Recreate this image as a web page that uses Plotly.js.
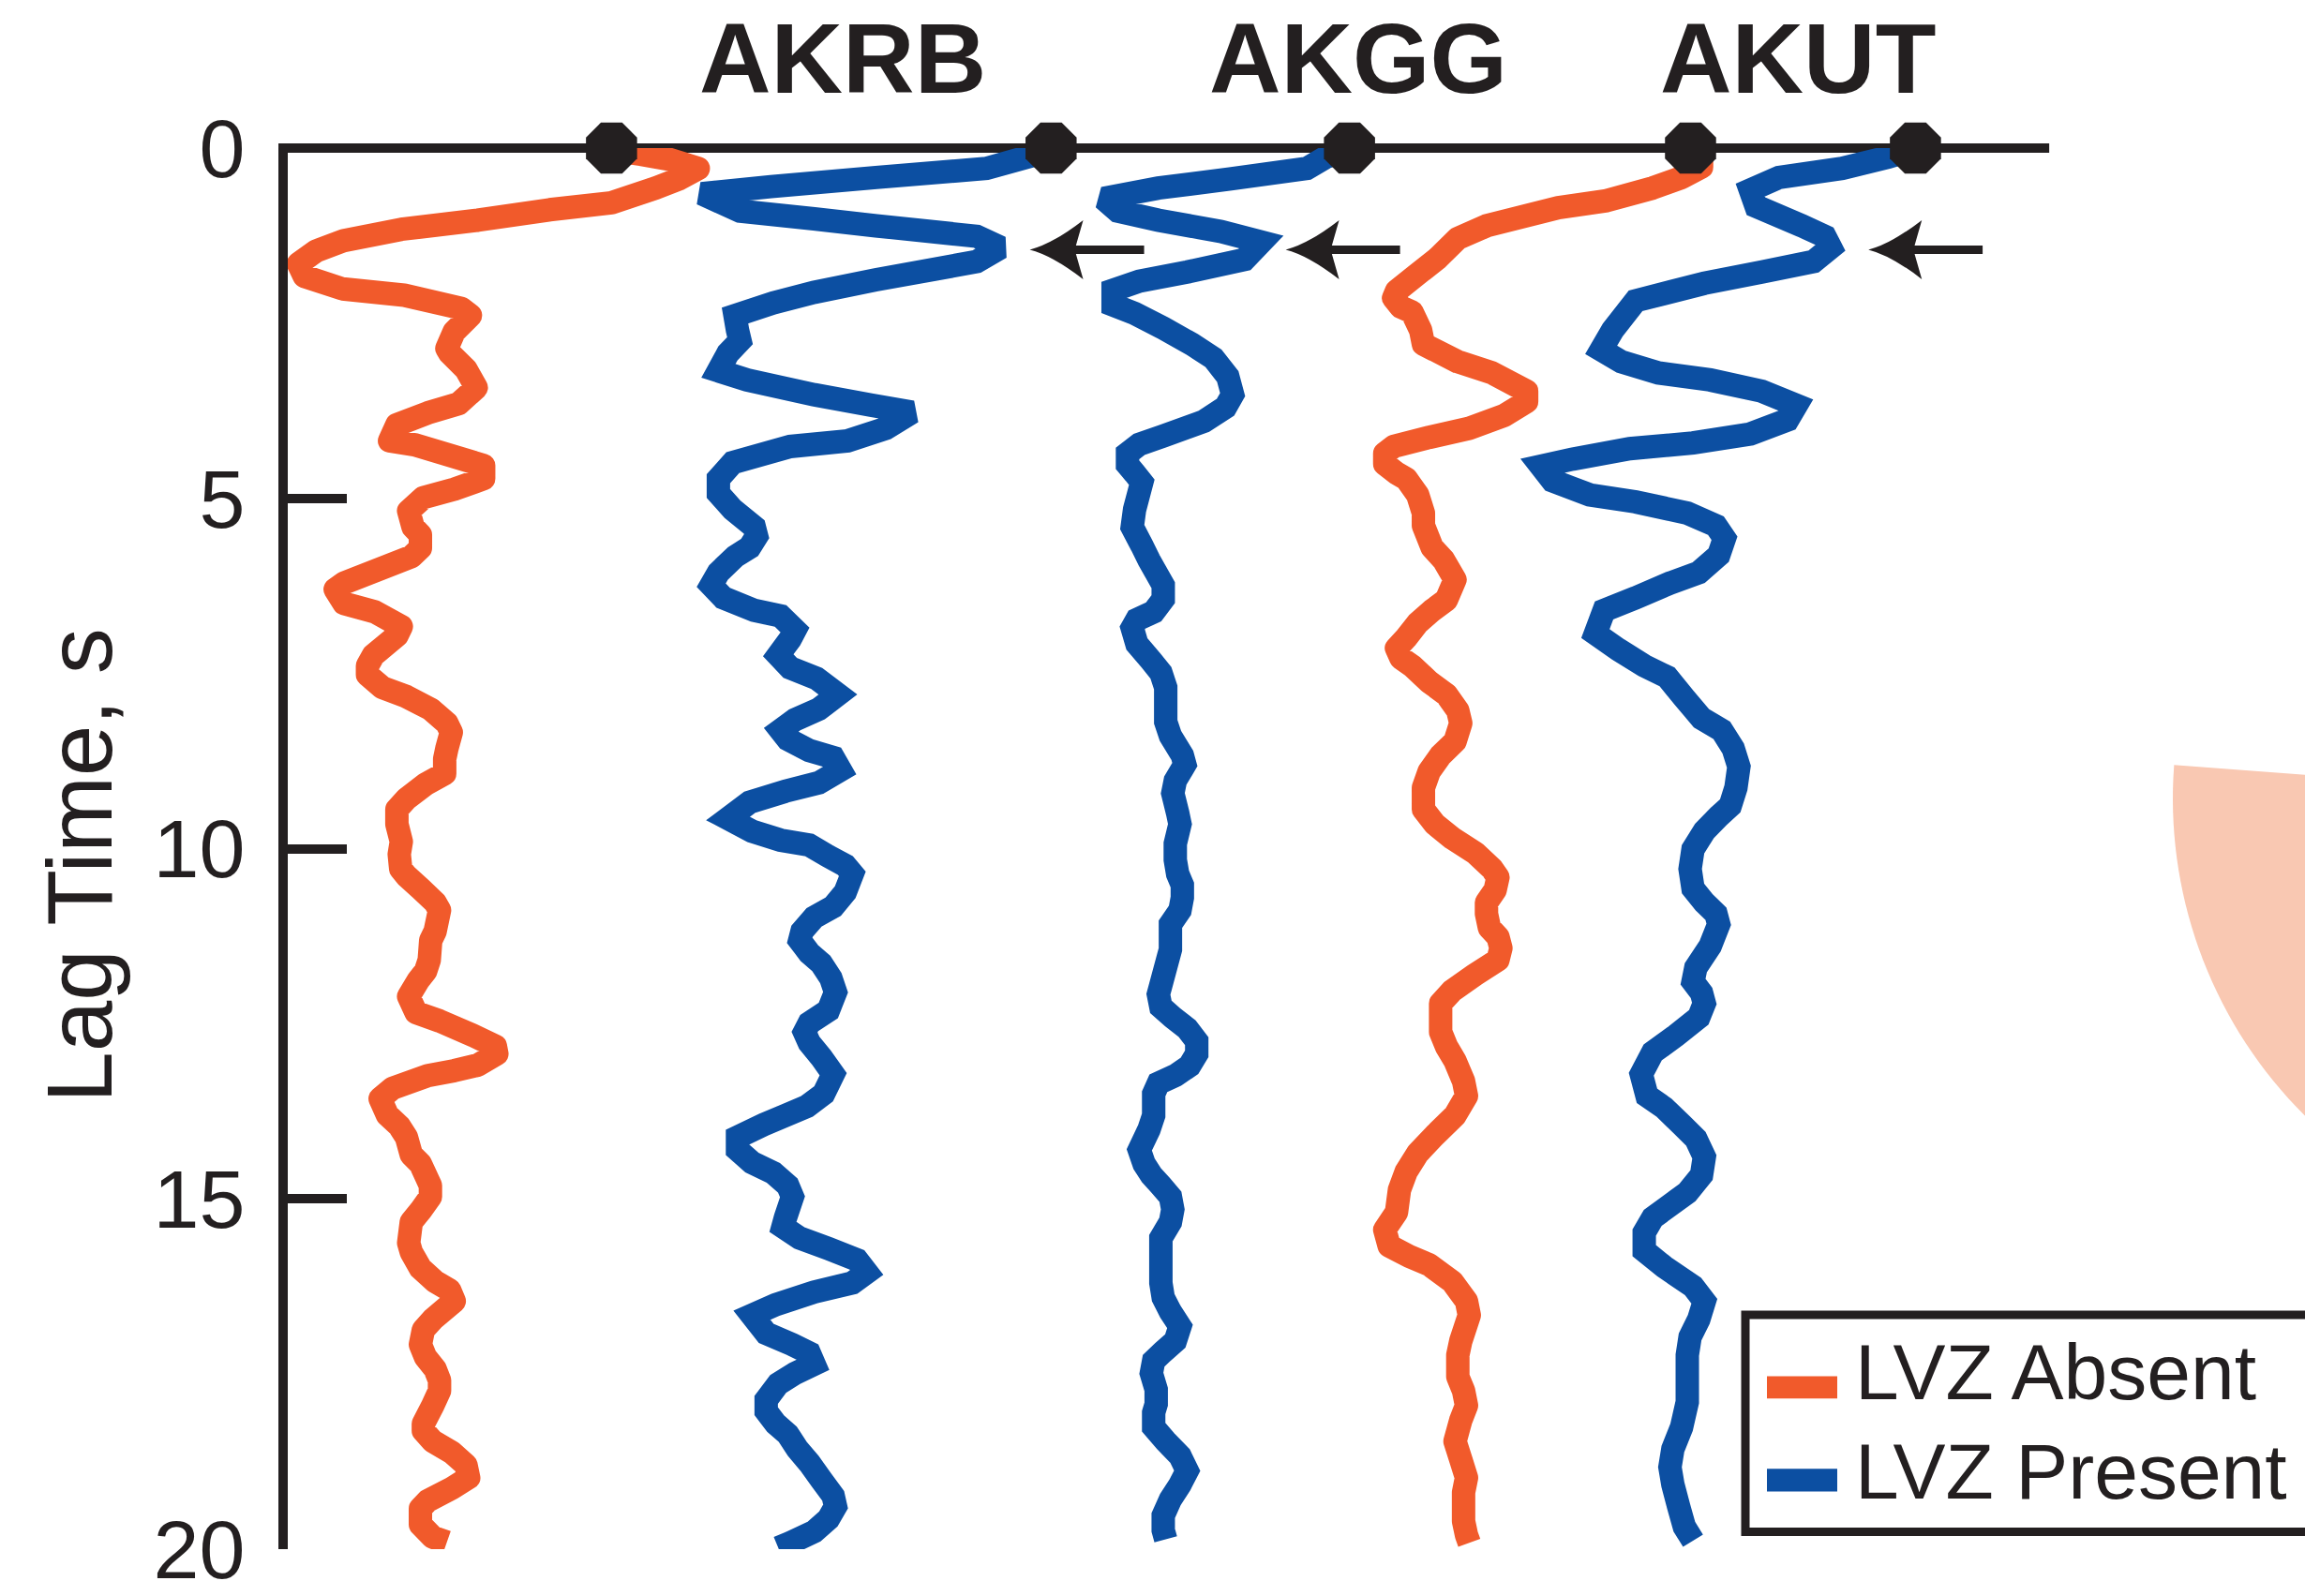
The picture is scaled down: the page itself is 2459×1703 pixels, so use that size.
<!DOCTYPE html>
<html>
<head>
<meta charset="utf-8">
<script src="https://cdn.plot.ly/plotly-3.0.1.min.js"></script>
<style>
  html, body { margin: 0; padding: 0; background: #ffffff; }
  #chart { width: 2459px; height: 1703px; }
</style>
</head>
<body>
<div id="chart"></div>
<script>
// ---------------- data ----------------
// Each trace: lag time (s) and horizontal position of the waveform (plot offset units)
const trace1Lag = [0.03,0.09,0.16,0.29,0.44,0.57,0.78,0.88,1.03,1.16,
  1.32,1.47,1.65,1.83,2.01,2.10,2.29,2.39,2.62,2.86,
  2.93,3.16,3.42,3.65,3.78,3.95,4.18,4.24,4.53,4.72,
  4.87,4.99,5.18,5.41,5.52,5.71,5.83,6.21,6.30,6.50,
  6.62,6.83,6.96,7.24,7.39,7.52,7.70,7.83,8.01,8.21,
  8.34,8.57,8.72,8.93,9.08,9.29,9.44,9.65,9.90,10.08,
  10.29,10.39,10.57,10.77,10.88,11.18,11.31,11.59,11.75,11.88,
  12.11,12.34,12.46,12.67,12.82,12.93,13.09,13.17,13.24,13.42,
  13.57,13.80,13.96,14.12,14.37,14.50,14.81,14.97,15.17,15.33,
  15.63,15.76,15.99,16.18,16.30,16.46,16.72,16.87,17.08,17.26,
  17.43,17.59,17.74,17.95,18.21,18.31,18.46,18.62,18.80,18.98,
  19.13,19.31,19.42,19.65,19.83,19.90];
const trace1X = [416,436,455,475,462,446,416,374,325,273,
  234,215,203,207,233,275,314,320,309,304,
  306,317,324,312,291,270,265,283,329,329,
  309,288,278,281,286,286,280,234,228,234,
  255,273,270,254,250,250,260,276.5,293,304,
  307,304,302.5,302.5,289.5,276.5,270,270,273,271.6,
  272.6,276.5,286,296,299,296,293,292,289.5,284.6,
  278,283,299,322,337,338,325,309,291,267,
  258.6,263.5,271.6,276.5,279.8,286,292.8,292.8,286,279.8,
  278,279.8,286,296,305.8,309,294.4,288,286,289.5,
  296,299,299,294.4,288,288,294.4,307.4,317,318.8,
  307.4,291,286,286,294.4,304];

const trace2Lag = [0.04,0.10,0.29,0.42,0.55,0.65,0.90,1.01,1.11,1.26,
  1.42,1.62,1.88,2.06,2.21,2.39,2.60,2.75,2.93,3.18,
  3.31,3.52,3.67,3.77,4.00,4.18,4.26,4.49,4.72,4.93,
  5.16,5.41,5.54,5.70,5.83,6.06,6.24,6.42,6.60,6.68,
  6.88,7.01,7.24,7.42,7.57,7.80,8.01,8.16,8.31,8.44,
  8.60,8.70,8.88,9.06,9.18,9.34,9.57,9.75,9.88,9.95,
  10.11,10.24,10.36,10.62,10.83,10.98,11.18,11.31,11.49,11.64,
  11.85,12.05,12.31,12.49,12.62,12.77,12.98,13.22,13.50,13.68,
  13.81,13.94,14.12,14.30,14.48,14.63,14.81,14.97,15.27,15.40,
  15.56,15.71,15.87,16.05,16.20,16.33,16.51,16.66,16.92,17.08,
  17.20,17.36,17.49,17.64,17.87,18.03,18.21,18.36,18.57,18.77,
  19.01,19.24,19.39,19.57,19.75,19.91,19.98];
const trace2X = [712,703.5,671,596,524.5,477.3,503.4,553.8,596,664.4,
  680.7,664.4,596,553.8,526.1,500,501.7,503.4,495.2,488.7,
  508.2,553.8,592.8,620.5,602.6,576.6,537.5,498.5,488.7,488.7,
  498.5,513.1,514.7,509.9,500.1,488.7,483.8,492,513.1,531,
  540.8,537.5,529.4,537.5,555.4,570,557,540.8,531,535.9,
  550.5,566.8,571.7,557,534.3,509.9,495.2,511.5,531,550.5,
  563.5,575,579.8,575,566.8,553.8,545.6,544,550.5,558.7,
  565.2,568.4,563.5,550.5,547.3,550.5,558.7,566.8,560.3,548.9,
  534.3,519.6,501.7,501.7,511.5,526.1,535.9,539.1,534.3,532.6,
  544,563.5,583,589.6,579.8,553.8,527.7,511.5,521.2,539.1,
  550.5,553.8,540.8,529.4,521.2,521.2,527.7,535.9,542.4,550.5,
  558.7,566.8,568.4,563.5,553.8,537.5,529.4];

const trace3Lag = [0.04,0.13,0.29,0.44,0.57,0.72,0.90,1.03,1.19,1.34,
  1.59,1.77,1.90,2.03,2.24,2.36,2.57,2.80,3.00,3.26,
  3.52,3.70,3.90,4.11,4.23,4.36,4.52,4.64,4.77,5.16,
  5.41,5.67,5.88,6.24,6.44,6.62,6.73,6.85,7.08,7.32,
  7.49,7.70,8.19,8.39,8.67,8.80,9.03,9.21,9.49,9.65,
  9.93,10.16,10.36,10.52,10.70,10.88,11.08,11.44,12.08,12.26,
  12.41,12.57,12.75,12.93,13.10,13.24,13.35,13.50,13.81,14.01,
  14.30,14.50,14.66,14.81,14.97,15.15,15.33,15.56,16.20,16.41,
  16.61,16.82,17.03,17.18,17.31,17.49,17.72,17.93,18.05,18.26,
  18.46,18.67,18.88,19.08,19.29,19.52,19.73,19.86];
const trace3X = [914,902,889,837,788,750.6,760.4,788,830.4,858,
  846.6,807.6,775,757.2,757.2,771.8,791.3,810.8,825.5,835.2,
  838.5,833.6,819,791.3,775,767,767,771.8,776.7,771.8,
  770.2,776.7,781.6,791.3,791.3,784.8,773.4,770.2,773.4,783.2,
  789.7,793,793,796.2,804.3,806,799.5,797.8,801.1,802.7,
  799.5,799.5,801.1,804.3,804.3,802.7,796.2,796.2,788,789.7,
  797.8,807.6,814.1,814.1,809.2,799.5,788,784.8,784.8,781.6,
  775,778.3,783.2,789.7,796.2,797.8,796.2,789.7,789.7,791.3,
  796.2,802.7,799.5,791.3,784.8,783.2,786.5,786.5,784.8,784.8,
  793,802.7,807.6,802.7,796.2,791.3,791.3,793];

const trace4Lag = [0.00,0.08,0.27,0.42,0.57,0.75,0.85,1.11,1.29,1.57,
  1.83,2.04,2.14,2.27,2.34,2.60,2.80,3.05,3.21,3.47,
  3.62,3.82,4.00,4.13,4.26,4.36,4.51,4.64,4.72,4.95,
  5.21,5.39,5.70,5.88,6.16,6.45,6.60,6.78,6.99,7.14,
  7.28,7.39,7.62,7.80,8.03,8.21,8.47,8.67,8.90,9.13,
  9.44,9.65,9.85,10.06,10.29,10.41,10.59,10.77,10.93,11.13,
  11.26,11.42,11.59,11.80,12.03,12.21,12.62,12.82,13.03,13.32,
  13.53,13.81,14.09,14.35,14.61,14.87,15.19,15.44,15.67,15.82,
  15.94,16.18,16.46,16.66,17.03,17.23,17.54,17.74,17.95,18.16,
  18.46,18.72,18.98,19.19,19.60,19.80,19.91];
const trace4X = [1150,1157.5,1157.5,1143.9,1124.3,1093.1,1060,1011.2,991.7,978.1,
  962.5,950,948,953,960.5,966.4,968.3,991.7,1015.1,1038.5,
  1038.5,1022.9,999.5,972.2,948,942,942,950,956.6,964.4,
  968.3,968.3,974.2,982,989.8,983.9,974.2,964.4,956.6,950,
  953,960.5,972.2,983.9,991.7,993.7,989.8,980,972.2,968.3,
  968.3,976.1,987.8,1003.4,1015.1,1019,1017.1,1011.2,1011.2,1013.2,
  1019,1021,1019,1003.4,987.8,980,980,983.9,989.8,995.6,
  997.6,989.8,976.1,964.4,956.6,952,950,942,945,958.6,
  972.2,987.8,997.6,999.5,993.7,991.7,991.7,995.6,997.6,993.7,
  989.8,993.7,997.6,995.6,995.6,997.6,999.5];

const trace5Lag = [0.02,0.13,0.29,0.42,0.60,0.83,1.11,1.26,1.42,1.62,
  1.77,1.93,2.18,2.60,2.88,3.05,3.21,3.31,3.47,3.67,
  3.88,4.08,4.21,4.29,4.44,4.54,4.75,4.95,5.05,5.21,
  5.39,5.57,5.81,6.06,6.21,6.42,6.60,6.93,7.16,7.39,
  7.55,7.85,8.14,8.31,8.57,8.83,9.13,9.39,9.54,9.75,
  10.01,10.29,10.57,10.77,10.93,11.08,11.39,11.70,11.90,12.06,
  12.21,12.41,12.67,12.91,13.22,13.53,13.70,13.94,14.14,14.40,
  14.66,14.91,15.12,15.27,15.48,15.74,15.97,16.25,16.46,16.72,
  16.97,17.23,17.90,18.26,18.57,18.83,19.08,19.39,19.68,19.88];
const trace5X = [1302,1284.3,1253.1,1210.2,1190.7,1194.6,1225.8,1241.4,1245.3,1233.6,
  1198.5,1159.4,1112.6,1097,1089.2,1102.9,1128.2,1163.4,1198.5,1221.9,
  1216,1190.7,1151.7,1108.7,1069.7,1048.3,1056.1,1081.4,1112.6,1147.8,
  1167.3,1173.1,1169.2,1155.6,1136,1112.6,1091.2,1085.3,1101,1118.5,
  1134.1,1145.8,1157.5,1171.2,1179,1182.9,1180.9,1177,1169.2,1159.4,
  1151.7,1149.7,1151.7,1159.4,1167.3,1169.2,1163.4,1153.6,1151.7,1157.5,
  1159.4,1155.6,1140,1124.3,1116.5,1120.4,1132.1,1143.9,1153.6,1159.4,
  1157.5,1147.8,1134.1,1124.3,1118.5,1118.5,1132.1,1151.7,1159.4,1155.6,
  1149.7,1147.8,1147.8,1143.9,1138,1136,1138,1141.9,1145.8,1151.7];

const traceGroup = ['LVZ Absent','LVZ Present','LVZ Present','LVZ Absent','LVZ Present'];

// octagon markers on the zero-lag line
const markerX = [416, 715, 918, 1150, 1303];
const markerLag = [0, 0, 0, 0, 0];

// arrows (pointing to the left)
const arrowTipX = [700.5, 874.6, 1271];
const arrowTailX = [778.3, 952.4, 1348.7];
const arrowLag = [1.45, 1.45, 1.45];

// station labels
const stationNames = ['AKRB', 'AKGG', 'AKUT'];
const stationX = [573.3, 923.7, 1223];

// axis ticks
const yTickVals = [0, 5, 10, 15, 20];
const yTickText = ['0', '5', '10', '15', '20'];

// legend entries
const legendNames = ['LVZ Absent', 'LVZ Present'];

// ---------------- styling / layout ----------------
const ORANGE = '#f15a2b';
const BLUE = '#0c4fa2';
const INK = '#231f20';
const PEACH = '#f9c8b2';
const FONT = 'Liberation Sans, Arial, Helvetica, sans-serif';
const groupColor = {'LVZ Absent': ORANGE, 'LVZ Present': BLUE};

const W = 2459, H = 1703;
const M = {l: 307, r: 0, t: 158, b: 50};
const PW = W - M.l - M.r, PH = H - M.t - M.b;
const xScale = 1.56824;               // pixels per x unit
const xRange = [M.l / xScale, W / xScale];
const yRange = [20, 0];

const pX = px => (px - M.l) / PW;              // pixel -> paper x
const pY = py => (M.t + PH - py) / PH;         // pixel -> paper y
const dX = x => (x - xRange[0]) / (xRange[1] - xRange[0]); // data x -> paper x
const ux = 1 / xScale;                          // data-x per pixel
const uy = (yRange[0] - yRange[1]) / PH;       // lag per pixel

const series = [
  {x: trace1X, y: trace1Lag, g: traceGroup[0]},
  {x: trace2X, y: trace2Lag, g: traceGroup[1]},
  {x: trace3X, y: trace3Lag, g: traceGroup[2]},
  {x: trace4X, y: trace4Lag, g: traceGroup[3]},
  {x: trace5X, y: trace5Lag, g: traceGroup[4]}
];

const data = series.map(s => ({
  type: 'scatter', mode: 'lines', x: s.x, y: s.y, name: s.g,
  line: {color: groupColor[s.g], width: 25, simplify: false},
  showlegend: false, hoverinfo: 'skip'
}));
data.push({
  type: 'scatter', mode: 'markers', x: markerX, y: markerLag,
  marker: {symbol: 'octagon', size: 59, color: INK, line: {width: 0}},
  cliponaxis: false, showlegend: false, hoverinfo: 'skip'
});

const shapes = [];
// zero-lag line along the top
shapes.push({type: 'line', xref: 'paper', yref: 'paper',
  x0: dX(189.4), x1: dX(1394), y0: 1, y1: 1,
  line: {color: INK, width: 10}, layer: 'below'});

// arrows
for (let i = 0; i < arrowTipX.length; i++) {
  const xt = arrowTipX[i], yl = arrowLag[i];
  shapes.push({type: 'line', xref: 'x', yref: 'y',
    x0: arrowTailX[i], x1: xt + 44 * ux, y0: yl, y1: yl,
    line: {color: INK, width: 9}});
  const path = `M ${xt},${yl} Q ${xt + 24 * ux},${yl - 6 * uy} ${xt + 57 * ux},${yl - 31.5 * uy} ` +
    `L ${xt + 48 * ux},${yl} L ${xt + 57 * ux},${yl + 31.5 * uy} ` +
    `Q ${xt + 24 * ux},${yl + 6 * uy} ${xt},${yl} Z`;
  shapes.push({type: 'path', xref: 'x', yref: 'y', path: path,
    fillcolor: INK, line: {width: 0}});
}

// light wedge on the right edge
(function () {
  const cx = 2795, cy = 852, r = 477;
  let path = `M ${pX(cx)},${pY(cy)}`;
  for (let a = 184.3; a >= 95; a -= 1.5) {
    const t = a * Math.PI / 180;
    path += ` L ${pX(cx + r * Math.cos(t))},${pY(cy + r * Math.sin(t))}`;
  }
  path += ' Z';
  shapes.push({type: 'path', xref: 'paper', yref: 'paper', path: path,
    fillcolor: PEACH, line: {width: 0}, layer: 'below'});
})();

// legend box and swatches
shapes.push({type: 'rect', xref: 'paper', yref: 'paper',
  x0: pX(1862), x1: pX(2620), y0: pY(1634.5), y1: pY(1403),
  line: {color: INK, width: 9}, fillcolor: 'rgba(255,255,255,0)'});
const swatchY = [[1468.5, 1492.3], [1567.3, 1591.5]];
legendNames.forEach((n, i) => {
  shapes.push({type: 'rect', xref: 'paper', yref: 'paper',
    x0: pX(1885), x1: pX(1960), y0: pY(swatchY[i][1]), y1: pY(swatchY[i][0]),
    fillcolor: groupColor[n], line: {width: 0}});
});

const annotations = [];
stationNames.forEach((s, i) => {
  annotations.push({xref: 'x', yref: 'paper', x: stationX[i], y: pY(62.5),
    text: s, showarrow: false, xanchor: 'center', yanchor: 'middle',
    font: {family: FONT, size: 106, color: INK, weight: 'bold'}});
});
const legendTextY = [1464, 1569.6];
legendNames.forEach((n, i) => {
  annotations.push({xref: 'paper', yref: 'paper', x: pX(1977), y: pY(legendTextY[i]),
    text: n, showarrow: false, xanchor: 'left', yanchor: 'middle',
    font: {family: FONT, size: 84, color: INK}});
});

const layout = {
  width: W, height: H,
  margin: {l: M.l, r: M.r, t: M.t, b: M.b, pad: 0, autoexpand: false},
  paper_bgcolor: '#ffffff', plot_bgcolor: 'rgba(0,0,0,0)',
  showlegend: false,
  font: {family: FONT, color: INK},
  xaxis: {range: xRange, visible: false, fixedrange: true},
  yaxis: {
    range: yRange, showgrid: false, zeroline: false,
    showline: true, linewidth: 10, linecolor: INK,
    ticks: 'inside', ticklen: 63, tickwidth: 10, tickcolor: INK,
    tickmode: 'array', tickvals: yTickVals, ticktext: yTickText,
    tickfont: {family: FONT, size: 88, color: INK},
    ticklabelstandoff: 18, ticklabeloverflow: 'allow',
    automargin: false, fixedrange: true,
    title: {text: 'Lag Time, s', font: {family: FONT, size: 98, color: INK}, standoff: 15}
  },
  shapes: shapes,
  annotations: annotations
};

Plotly.newPlot('chart', data, layout, {displayModeBar: false, staticPlot: true}).then(gd => {
  // rounded joins for the orange (LVZ absent) traces, as in the original artwork
  const traces = gd.querySelectorAll('.scatterlayer .trace');
  series.forEach((s, i) => {
    if (s.g === 'LVZ Absent' && traces[i]) {
      traces[i].querySelectorAll('path.js-line').forEach(p => p.style.strokeLinejoin = 'round');
    }
  });
  // nudge the axis title slightly downward to match the original placement
  const yt = gd.querySelector('.ytitle');
  if (yt) {
    const tr = yt.getAttribute('transform') || '';
    yt.setAttribute('transform', 'translate(0,18) ' + tr);
  }
});
</script>
</body>
</html>
